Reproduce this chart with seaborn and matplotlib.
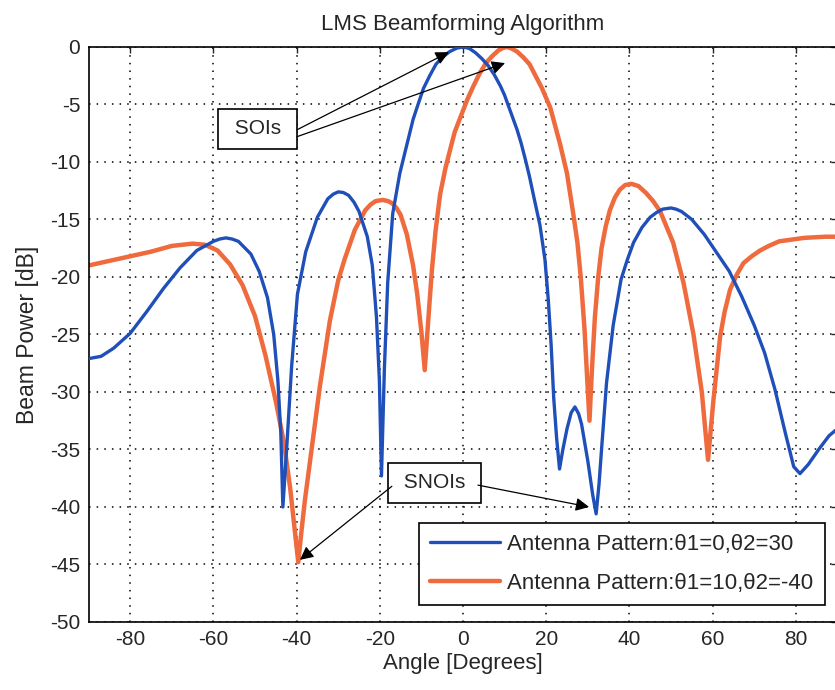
import numpy as np
import pandas as pd
import seaborn as sns
import matplotlib.pyplot as plt

# ---- data ----
blue_angle = [-90, -87, -84, -80, -76, -72, -68, -64, -60, -58.5, -57, -55.5, -54, -51,
              -49, -47, -45.5, -44.5, -43.8, -43.3, -42.4, -41.2, -39.8, -37.8, -35,
              -32.5, -31.2, -30, -28.8, -27.5, -26.2, -25, -23, -21.8, -20.8, -20.1,
              -19.6, -18.9, -18.1, -16.9, -15.2, -13.5, -12, -11, -9.5, -8, -6.5, -4.8,
              -3.2, -1.5, 0, 1.5, 3, 4.5, 6, 7.5, 9, 10, 11, 12, 13, 14, 15, 16, 17,
              18.5, 19.7, 20.5, 21.2, 21.8, 22.5, 23.2, 24, 25, 26, 26.9, 27.8, 28.5,
              30, 31.2, 32, 32.7, 33.3, 34.5, 36.1, 38, 39.5, 41, 43, 45, 46.5, 48, 50,
              51.2, 52.5, 55, 58, 61, 64, 67, 70, 72.5, 75, 77.5, 79.5, 81, 83, 85.5,
              88, 90]
blue_db = [-27.1, -26.9, -26.2, -24.9, -23.0, -21.0, -19.2, -17.7, -16.9, -16.7, -16.6,
           -16.7, -16.9, -18.0, -19.5, -21.8, -25.0, -29.0, -33.5, -40.0, -35.0, -27.8,
           -21.5, -17.8, -14.8, -13.2, -12.8, -12.6, -12.65, -12.9, -13.5, -14.3, -16.5,
           -19.0, -23.5, -29.0, -37.3, -28.0, -20.5, -14.5, -11.0, -8.5, -6.3, -5.2,
           -3.6, -2.5, -1.5, -0.85, -0.4, -0.1, 0.0, -0.12, -0.5, -1.0, -1.6, -2.4,
           -3.4, -4.2, -5.2, -6.2, -7.2, -8.4, -9.8, -11.3, -13.0, -15.5, -18.5, -22.0,
           -26.0, -30.5, -34.0, -36.7, -35.0, -33.2, -31.8, -31.3, -31.9, -32.8, -36.0,
           -39.0, -40.6, -38.0, -35.0, -29.2, -24.2, -20.2, -18.5, -17.0, -15.7, -14.8,
           -14.4, -14.1, -14.0, -14.1, -14.3, -15.0, -16.3, -17.9, -19.5, -21.7, -24.2,
           -26.6, -29.8, -33.6, -36.5, -37.1, -36.3, -35.0, -33.8, -33.2]

orange_angle = [-90, -85, -80, -75, -70, -65, -62, -59, -56, -53, -50, -47.5, -45, -43,
                -41.5, -40.3, -39.6, -38.8, -38, -36.4, -34.4, -32, -30, -28.5, -26,
                -23.5, -22.2, -21, -19.3, -18, -17, -16, -15, -13.5, -12, -11, -10,
                -9.2, -8.4, -7.5, -6.6, -5.5, -4.2, -3, -2, -0.5, 1, 2.5, 4, 5.5, 7,
                8.5, 9.5, 10.5, 11.5, 13, 14.5, 16, 19, 21, 23.3, 25, 26.5, 27.5, 28.3,
                29.2, 29.8, 30.4, 31, 31.7, 32.5, 33.3, 34.3, 35.3, 36.5, 37.7, 39,
                40.5, 42.2, 44, 45.7, 47.4, 50.5, 53, 55.4, 57.4, 58.9, 60.2, 61.8, 62.9,
                64.2, 65.8, 67.4, 69.4, 71.4, 73.5, 76, 82, 87, 90]
orange_db = [-19.0, -18.6, -18.2, -17.8, -17.3, -17.1, -17.2, -17.7, -18.9, -20.7, -23.4,
             -26.8, -30.8, -34.5, -38.5, -42.5, -44.8, -42.0, -39.4, -35.0, -29.5, -23.8,
             -20.3, -18.5, -15.9, -14.2, -13.7, -13.4, -13.3, -13.4, -13.6, -14.0, -14.6,
             -16.3, -19.0, -21.5, -24.8, -28.1, -24.0, -19.5, -16.0, -12.8, -10.5, -8.8,
             -7.4, -6.0, -4.6, -3.4, -2.3, -1.4, -0.8, -0.3, -0.1, 0.0, -0.1, -0.4, -0.9,
             -1.5, -3.6, -5.3, -8.4, -11.0, -14.5, -17.0, -20.0, -24.5, -28.5, -32.5,
             -28.0, -23.5, -20.0, -17.5, -15.6, -14.2, -13.1, -12.4, -12.0, -11.9, -12.1,
             -12.7, -13.4, -14.3, -17.0, -20.5, -25.0, -30.0, -35.9, -30.7, -25.2, -23.0,
             -21.1, -19.8, -18.8, -18.2, -17.7, -17.3, -16.9, -16.6, -16.5, -16.5]

blue_label = "Antenna Pattern:θ1=0,θ2=30"
orange_label = "Antenna Pattern:θ1=10,θ2=-40"

x_ticks = [-80, -60, -40, -20, 0, 20, 40, 60, 80]
y_ticks = [-50, -45, -40, -35, -30, -25, -20, -15, -10, -5, 0]

# annotation boxes (centre) and arrows (tail, head) in data units
soi_box = (-49.4, -7.1)
soi_arrows = [((-39.9, -7.2), (-3.4, -0.45)), ((-39.9, -7.8), (10.1, -1.4))]
snoi_box = (-6.85, -37.9)
snoi_arrows = [((-17.1, -38.2), (-39.2, -44.6)), ((3.6, -38.1), (30.3, -40.0))]

blue = "#1f4fb8"
orange = "#ef6b3e"

sns.set_style("white")
plt.rcParams['font.family'] = ['Liberation Sans', 'DejaVu Sans']
plt.rcParams['font.size'] = 15
plt.rcParams['axes.unicode_minus'] = False

fig = plt.figure(figsize=(8.35, 6.9), dpi=100)
ax = fig.add_axes([0.1061, 0.0986, 0.8968, 0.8333])

df_b = pd.DataFrame({"angle": blue_angle, "db": blue_db})
df_o = pd.DataFrame({"angle": orange_angle, "db": orange_db})
sns.lineplot(data=df_b, x="angle", y="db", color=blue, lw=2.4, label=blue_label,
             estimator=None, ax=ax, zorder=3)
sns.lineplot(data=df_o, x="angle", y="db", color=orange, lw=3.2, label=orange_label,
             estimator=None, ax=ax, zorder=2)

ax.set_xlim(-90, 90)
ax.set_ylim(-50, 0)
ax.set_xticks(x_ticks)
ax.set_yticks(y_ticks)
ax.grid(True, color="black", linestyle=(0, (1.0, 4.0)), linewidth=1.1)
for s in ax.spines.values():
    s.set_color("black")
    s.set_linewidth(1.2)
ax.tick_params(direction="in", length=4, width=1, top=True, right=True,
               labelsize=15, pad=6)

ax.set_title("LMS Beamforming Algorithm", fontsize=16, pad=12)
ax.set_xlabel("Angle [Degrees]", fontsize=16, labelpad=3)
ax.set_ylabel("Beam Power [dB]", fontsize=16.5, labelpad=8)

box = dict(boxstyle="square,pad=0.5", fc="white", ec="black", lw=1.2)
arrow = dict(arrowstyle="-|>", color="black", lw=0.9, mutation_scale=20,
             shrinkA=0, shrinkB=0)
ax.text(soi_box[0], soi_box[1], " SOIs ", ha="center", va="center", bbox=box, zorder=5)
for tail, head in soi_arrows:
    ax.annotate("", xy=head, xytext=tail, arrowprops=arrow, zorder=5)
ax.text(snoi_box[0], snoi_box[1], " SNOIs ", ha="center", va="center", bbox=box, zorder=5)
for tail, head in snoi_arrows:
    ax.annotate("", xy=head, xytext=tail, arrowprops=arrow, zorder=5)

leg = ax.legend(loc="lower right", bbox_to_anchor=(0.983, 0.03), frameon=True,
                fancybox=False, edgecolor="black", framealpha=1, fontsize=16,
                handlelength=3.15, handletextpad=0.35, borderpad=0.5,
                labelspacing=0.8, borderaxespad=0)
leg.get_frame().set_linewidth(1.2)
leg.set_zorder(6)

fig.savefig("out.png", dpi=100)
